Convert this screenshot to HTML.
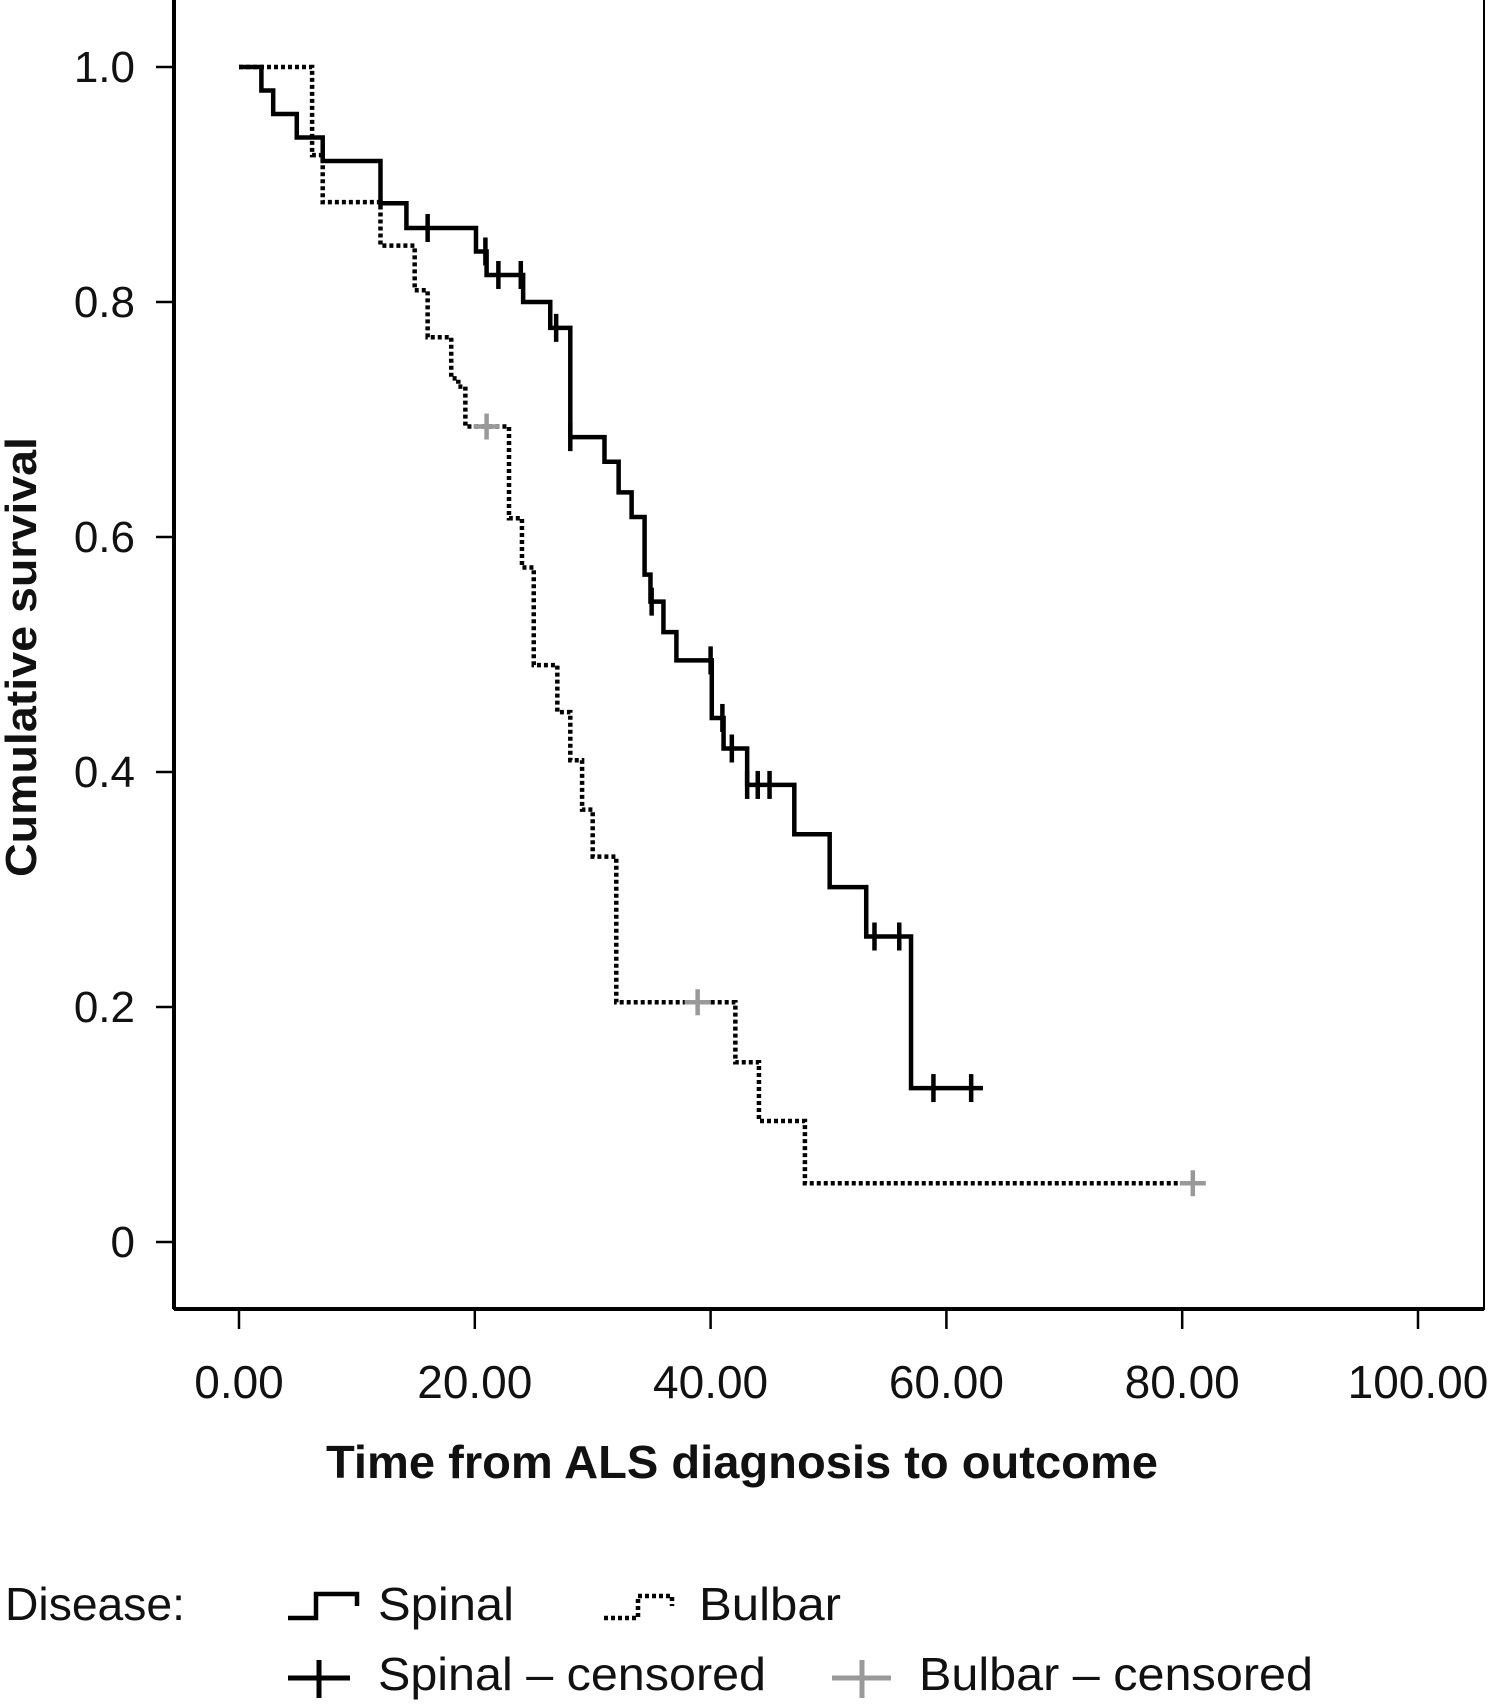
<!DOCTYPE html>
<html><head><meta charset="utf-8"><style>
html,body{margin:0;padding:0;background:#fff;}
svg{display:block;}
text{font-family:"Liberation Sans",sans-serif;fill:#111;}
</style></head><body>
<svg id="chart" width="1500" height="1706" viewBox="0 0 1500 1706" xmlns="http://www.w3.org/2000/svg">
<g id="axes"></g>
<g id="series"></g>
<text transform="translate(36,657) rotate(-90)" text-anchor="middle" font-size="44" font-weight="bold" textLength="440" lengthAdjust="spacingAndGlyphs">Cumulative survival</text>
<text x="742" y="1478" text-anchor="middle" font-size="46" font-weight="bold" textLength="832" lengthAdjust="spacingAndGlyphs">Time from ALS diagnosis to outcome</text>
<g>
<text x="5" y="1620" font-size="46" textLength="180" lengthAdjust="spacingAndGlyphs">Disease:</text>
<path d="M288 1618 H316 V1594 H357 V1606" fill="none" stroke="#000" stroke-width="4.5"/>
<text x="378" y="1620" font-size="46" textLength="136" lengthAdjust="spacingAndGlyphs">Spinal</text>
<path d="M604 1618 H638 V1596 H672 V1606" fill="none" stroke="#000" stroke-width="4.5" stroke-dasharray="4 3"/>
<text x="699" y="1620" font-size="46" textLength="142" lengthAdjust="spacingAndGlyphs">Bulbar</text>
<path d="M288 1678 H350 M319 1660 V1698" stroke="#000" stroke-width="5"/>
<text x="378" y="1690" font-size="46" textLength="388" lengthAdjust="spacingAndGlyphs">Spinal – censored</text>
<path d="M832 1678 H891 M862 1660 V1698" stroke="#999" stroke-width="5"/>
<text x="919" y="1690" font-size="46" textLength="394" lengthAdjust="spacingAndGlyphs">Bulbar – censored</text>
</g>
</svg>
<script>
const xTicks = [0, 20, 40, 60, 80, 100];
const xTickLabels = ["0.00", "20.00", "40.00", "60.00", "80.00", "100.00"];
const yTicks = [0, 0.2, 0.4, 0.6, 0.8, 1.0];
const yTickLabels = ["0", "0.2", "0.4", "0.6", "0.8", "1.0"];
const spinalTimes = [0, 1.9, 2.9, 4.9, 7.1, 12.0, 14.2, 20.1, 21.0, 24.1, 26.4, 28.1, 31.0, 32.2, 33.3, 34.4, 34.9, 36.0, 37.1, 40.1, 41.1, 43.1, 47.1, 50.1, 53.2, 57.0];
const spinalSurv = [1.0, 0.98, 0.96, 0.94, 0.92, 0.884, 0.863, 0.843, 0.823, 0.80, 0.778, 0.685, 0.664, 0.638, 0.617, 0.568, 0.545, 0.519, 0.495, 0.446, 0.42, 0.389, 0.347, 0.302, 0.26, 0.131];
const spinalEnd = 63.1;
const spinalCensorTimes = [16.0, 20.9, 22.0, 23.9, 26.9, 28.1, 35.0, 40.0, 41.0, 41.8, 43.1, 44.0, 45.0, 53.9, 56.0, 58.9, 62.1];
const bulbarTimes = [0, 6.2, 7.1, 12.0, 14.9, 16.0, 18.0, 18.6, 19.2, 22.9, 24.0, 25.0, 27.0, 28.1, 29.1, 30.0, 32.0, 42.1, 44.1, 48.0];
const bulbarSurv = [1.0, 0.925, 0.885, 0.848, 0.81, 0.77, 0.735, 0.728, 0.694, 0.616, 0.574, 0.491, 0.451, 0.41, 0.368, 0.328, 0.204, 0.153, 0.103, 0.05];
const bulbarEnd = 80.9;
const bulbarCensorTimes = [21.0, 38.9, 80.9];

const NS = "http://www.w3.org/2000/svg";
const X0 = 239, X1 = 1418, Y0 = 1242, Y1 = 67;
function xs(t){ return X0 + (X1 - X0) * t / 100; }
function ys(v){ return Y0 - (Y0 - Y1) * v; }
function mk(tag, attrs, parent){
  const e = document.createElementNS(NS, tag);
  for (const k in attrs) e.setAttribute(k, attrs[k]);
  parent.appendChild(e);
  return e;
}
const axes = document.getElementById("axes");
const frame = mk("rect", {x:174, y:-4, width:1310, height:1313, fill:"none", stroke:"#000", "stroke-width":2}, axes);


const base = mk("path", {d:"M174 1309 H1484 M174 0 V1309", stroke:"#000", "stroke-width":4, fill:"none"}, axes);


xTicks.forEach((t, i) => {
  const tk = mk("line", {x1:xs(t), x2:xs(t), y1:1309, y2:1329, stroke:"#000", "stroke-width":2.5}, axes);
  
  
  const lb = mk("text", {x:xs(t), y:1398, "text-anchor":"middle", "font-size":46}, axes);
  
  
  lb.textContent = xTickLabels[i];
});
yTicks.forEach((v, i) => {
  const tk = mk("line", {x1:156, x2:174, y1:ys(v), y2:ys(v), stroke:"#000", "stroke-width":2.5}, axes);
  
  
  const lb = mk("text", {x:135, y:ys(v) + 15, "text-anchor":"end", "font-size":44}, axes);
  
  
  lb.textContent = yTickLabels[i];
});
function stepPath(times, surv, end){
  let d = "M" + xs(times[0]) + " " + ys(surv[0]);
  for (let i = 1; i < times.length; i++){
    d += " H" + xs(times[i]) + " V" + ys(surv[i]);
  }
  d += " H" + xs(end);
  return d;
}
function survAt(times, surv, t){
  let v = surv[0];
  for (let i = 0; i < times.length; i++) if (times[i] <= t) v = surv[i];
  return v;
}
const series = document.getElementById("series");
const bp = mk("path", {d:stepPath(bulbarTimes, bulbarSurv, bulbarEnd), fill:"none", stroke:"#000", "stroke-width":4.5, "stroke-dasharray":"4 3"}, series);


const sp = mk("path", {d:stepPath(spinalTimes, spinalSurv, spinalEnd), fill:"none", stroke:"#000", "stroke-width":4.5}, series);


spinalCensorTimes.forEach(t => {
  const y = ys(survAt(spinalTimes, spinalSurv, t));
  const c = mk("line", {x1:xs(t), x2:xs(t), y1:y - 14, y2:y + 14, stroke:"#000", "stroke-width":4.5}, series);
  
  
});
bulbarCensorTimes.forEach(t => {
  const y = ys(survAt(bulbarTimes, bulbarSurv, t));
  const x = xs(t);
  const c = mk("path", {d:"M" + (x - 13) + " " + y + " H" + (x + 13) + " M" + x + " " + (y - 13) + " V" + (y + 13), stroke:"#999", "stroke-width":4.5}, series);
  
  
});
</script>
</body></html>
